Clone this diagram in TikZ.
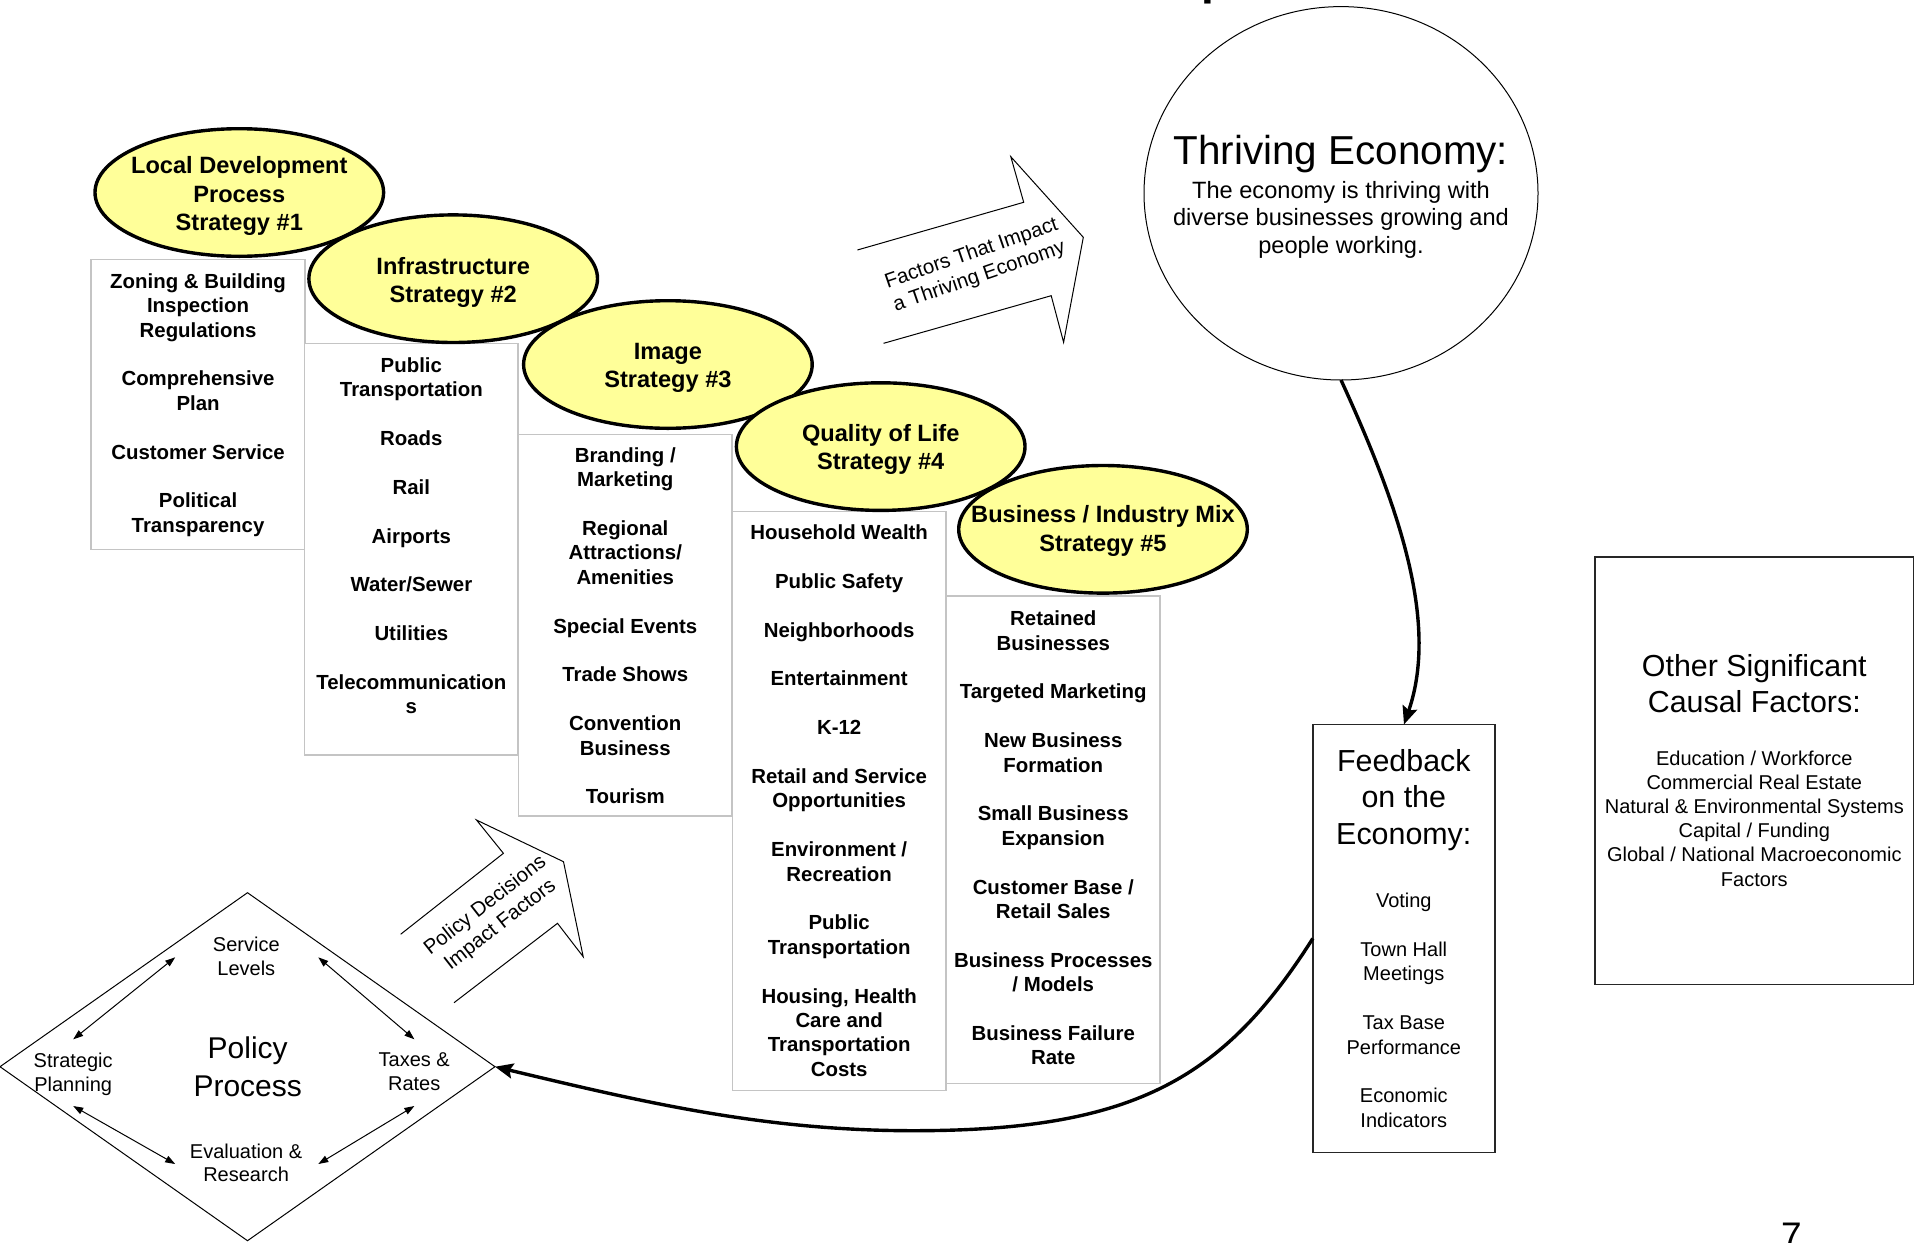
\documentclass[tikz,border=0pt]{standalone}
\usepackage{fontspec}
\setmainfont{Liberation Sans}
\usetikzlibrary{shapes.geometric,arrows.meta}
\definecolor{stratfill}{RGB}{255,255,153}
\definecolor{boxline}{RGB}{196,196,196}
% fixes the height of a node's first line so its top edge sets the first baseline
\newcommand{\firstline}[1]{\rule{0pt}{#1}}

\begin{document}
\begin{tikzpicture}[x=0.5pt,y=-0.5pt,
  every node/.style={inner sep=0pt, outer sep=0pt},
  stratshape/.style={ellipse, draw=black, line width=1.7pt, fill=stratfill,
    minimum width=144.3pt, minimum height=63.8pt},
  strattext/.style={align=center, font=\bfseries\fontsize{11.8}{14.15}\selectfont},
  listbox/.style={draw=boxline, line width=0.8pt, fill=white, anchor=north west,
    minimum width=106.85pt},
  listtext/.style={align=center, anchor=north, font=\bfseries\fontsize{10.2}{12.2}\selectfont},
  smalltext/.style={align=center, anchor=north, font=\fontsize{10}{12.1}\selectfont},
  bigtitle/.style={align=center, anchor=north, font=\fontsize{15.2}{18.2}\selectfont},
  blockarrow/.style={draw=black, line width=0.5pt, line join=miter},
  flow/.style={line width=1.7pt, -{Stealth[length=9pt,width=7.5pt,inset=1.5pt]}},
  loopArrow/.style={line width=0.5pt,
    {Triangle[length=5pt,width=3.5pt]}-{Triangle[length=5pt,width=3.5pt]}},
  arrowlabel/.style={align=center, font=\fontsize{10.2}{12.15}\selectfont},
]
\useasboundingbox (0,0) rectangle (1915,1242);

% fragment of the heading above the page
\node[anchor=base west, font=\bfseries\fontsize{23}{23}\selectfont] (frag) at (1201,-5.7) {p};

% ---- strategy columns ----
\node[listbox, minimum height=145pt] (b1) at (91.2,259.3) {};
\node[listtext] (l1) at ([yshift=-6.5pt]b1.north)
  {\firstline{8pt}Zoning \& Building\\Inspection\\Regulations\\[\baselineskip]
   Comprehensive\\Plan\\[\baselineskip]Customer Service\\[\baselineskip]
   Political\\Transparency};

\node[listbox, minimum height=205.7pt] (b2) at (304.5,343.3) {};
\node[listtext] (l2) at ([yshift=-6.5pt]b2.north)
  {\firstline{8pt}Public\\Transportation\\[\baselineskip]Roads\\[\baselineskip]
   Rail\\[\baselineskip]Airports\\[\baselineskip]Water/Sewer\\[\baselineskip]
   Utilities\\[\baselineskip]Telecommunication\\s};

\node[listbox, minimum height=190.7pt] (b3) at (518.4,434.3) {};
\node[listtext] (l3) at ([yshift=-6pt]b3.north)
  {\firstline{8pt}Branding /\\Marketing\\[\baselineskip]Regional\\Attractions/\\Amenities\\[\baselineskip]
   Special Events\\[\baselineskip]Trade Shows\\[\baselineskip]Convention\\Business\\[\baselineskip]
   Tourism};

\node[listbox, minimum height=289.55pt] (b4) at (732.3,511.4) {};
\node[listtext] (l4) at ([yshift=-6pt]b4.north)
  {\firstline{8pt}Household Wealth\\[\baselineskip]Public Safety\\[\baselineskip]
   Neighborhoods\\[\baselineskip]Entertainment\\[\baselineskip]K-12\\[\baselineskip]
   Retail and Service\\Opportunities\\[\baselineskip]Environment /\\Recreation\\[\baselineskip]
   Public\\Transportation\\[\baselineskip]Housing, Health\\Care and\\Transportation\\Costs};

\node[listbox, minimum height=243.95pt] (b5) at (946.4,595.7) {};
\node[listtext] (l5) at ([yshift=-7pt]b5.north)
  {\firstline{8pt}Retained\\Businesses\\[\baselineskip]Targeted Marketing\\[\baselineskip]
   New Business\\Formation\\[\baselineskip]Small Business\\Expansion\\[\baselineskip]
   Customer Base /\\Retail Sales\\[\baselineskip]Business Processes\\/ Models\\[\baselineskip]
   Business Failure\\Rate};

% ---- strategy ellipses ----
\node[stratshape] (s1) at (239.3,192.5) {};
\node[strattext] (t1) at ([yshift=-1.8pt]s1.center) {Local Development\\Process\\Strategy \#1};
\node[stratshape] (s2) at (453.2,278.7) {};
\node[strattext] (t2) at ([yshift=-1.8pt]s2.center) {Infrastructure\\Strategy \#2};
\node[stratshape] (s3) at (667.9,364.5) {};
\node[strattext] (t3) at ([yshift=-1.8pt]s3.center) {Image\\Strategy \#3};
\node[stratshape] (s4) at (880.7,446.6) {};
\node[strattext] (t4) at ([yshift=-1.5pt]s4.center) {Quality of Life\\Strategy \#4};
\node[stratshape] (s5) at (1103,529.3) {};
\node[strattext] (t5) at ([yshift=-0.8pt]s5.center) {Business / Industry Mix\\Strategy \#5};

% ---- block arrows ----
\draw[blockarrow] (857.4,250) -- (1023.7,202.3) -- (1010.8,156.7) -- (1083.3,237.3)
  -- (1063.6,342.3) -- (1051.2,295.7) -- (883.6,343.3);
\node[arrowlabel, rotate=19] (factors) at (975.5,265.5) {Factors That Impact\\a Thriving Economy};

\draw[blockarrow] (400.6,934.3) -- (503.4,853.3) -- (476.5,820) -- (563.5,861.7)
  -- (583.2,956.7) -- (557.5,923.3) -- (454,1002.7);
\node[arrowlabel, rotate=38] (decisions) at (493,915.5) {Policy Decisions\\Impact Factors};

% ---- thriving economy ----
\node[ellipse, draw=black, line width=0.5pt, minimum width=197pt, minimum height=186.7pt]
  (econ) at (1341,193.3) {};
\node[anchor=base, font=\fontsize{20.2}{23}\selectfont] (econtitle) at (1341,164.5) {Thriving Economy:};
\node[align=center, anchor=north, font=\fontsize{11.8}{13.9}\selectfont] (econbody) at (1341,180)
  {\firstline{9pt}The economy is thriving with\\diverse businesses growing and\\people working.};

% ---- feedback ----
\node[draw=black!85, line width=0.7pt, anchor=north west, minimum width=91.15pt,
  minimum height=213.95pt] (fb) at (1312.8,724.5) {};
\node[bigtitle] (fbtitle) at (1403.8,747.4) {\firstline{12pt}Feedback\\on the\\Economy:};
\node[smalltext, font=\fontsize{10}{12.2}\selectfont] (fblist) at (1403.8,891.6)
  {\firstline{8pt}Voting\\[\baselineskip]Town Hall\\Meetings\\[\baselineskip]
   Tax Base\\Performance\\[\baselineskip]Economic\\Indicators};

% ---- other factors ----
\node[draw=black!85, line width=0.7pt, anchor=north west, minimum width=159.25pt,
  minimum height=213.65pt] (other) at (1595,557) {};
\node[bigtitle, font=\fontsize{15.2}{18}\selectfont] (othertitle) at (1754.3,652.4)
  {\firstline{12pt}Other Significant\\Causal Factors:};
\node[smalltext] (otherlist) at (1754.3,749)
  {\firstline{8pt}Education / Workforce\\Commercial Real Estate\\Natural \& Environmental Systems\\
   Capital / Funding\\Global / National Macroeconomic\\Factors};

% ---- policy process ----
\node[diamond, draw=black, line width=0.5pt, minimum width=247.5pt, minimum height=174pt,
  aspect=1.42] (pp) at (247.5,1066.7) {};
\node[align=center, anchor=north, font=\fontsize{15}{18.85}\selectfont] (pptitle) at (247.7,1034.3)
  {\firstline{12pt}Policy\\Process};
\node[smalltext, font=\fontsize{10}{11.9}\selectfont] (svc) at (246.3,935.7) {\firstline{8pt}Service\\Levels};
\node[smalltext, font=\fontsize{10}{11.9}\selectfont] (strat) at (73.2,1051.7) {\firstline{8pt}Strategic\\Planning};
\node[smalltext, font=\fontsize{10}{11.9}\selectfont] (tax) at (414.2,1050.7) {\firstline{8pt}Taxes \&\\Rates};
\node[smalltext, font=\fontsize{10}{11.9}\selectfont] (eval) at (246.1,1142) {\firstline{8pt}Evaluation \&\\Research};

\coordinate (ulA) at (73.2,1039.3);  \coordinate (ulB) at (175.2,957.3);
\coordinate (urA) at (318.3,957.3);  \coordinate (urB) at (414.4,1039.3);
\coordinate (llA) at (73.2,1106);    \coordinate (llB) at (175.2,1164);
\coordinate (lrA) at (318.3,1164);   \coordinate (lrB) at (414.4,1106);
\draw[loopArrow] (ulA) -- (ulB);
\draw[loopArrow] (urA) -- (urB);
\draw[loopArrow] (llA) -- (llB);
\draw[loopArrow] (lrA) -- (lrB);

% ---- feedback loop ----
\draw[flow] (econ.south) .. controls (1394.9,498.2) and (1440.3,619.2) .. (fb.north);
\coordinate (low) at (913.4,1130.7);
\draw[flow] (fb.west) .. controls (1223.2,1079.7) and (1133.4,1130.7) .. (low)
  .. controls (763.4,1130.7) and (642.6,1102) .. (pp.east);

% page number
\node[anchor=base west, font=\fontsize{18.5}{18.5}\selectfont] (pg) at (1781,1248) {7};
\end{tikzpicture}
\end{document}
